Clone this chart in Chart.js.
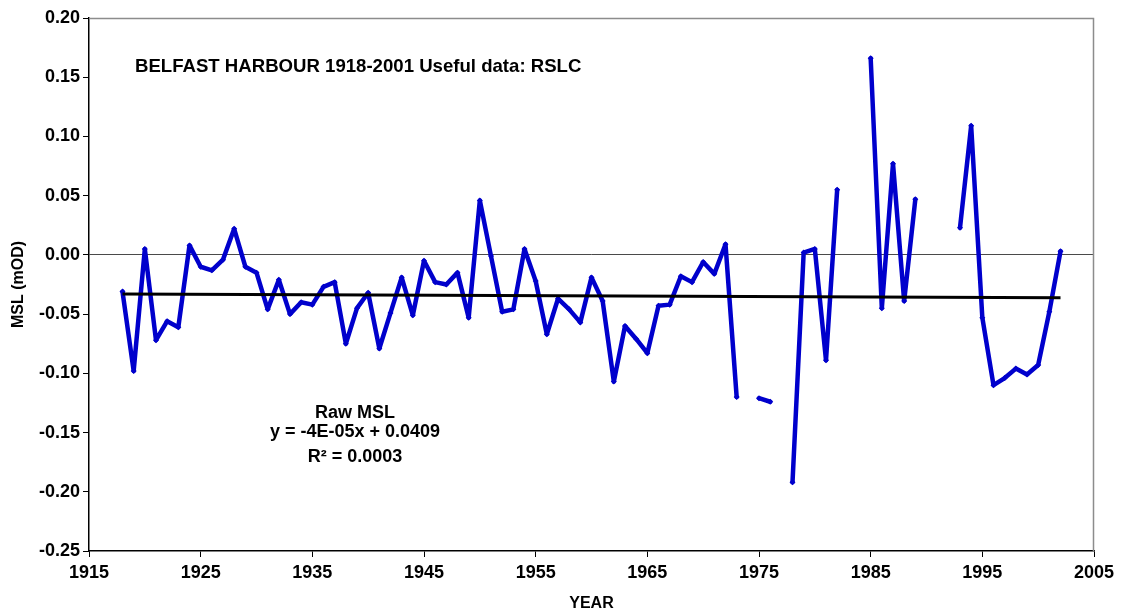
<!DOCTYPE html>
<html>
<head>
<meta charset="utf-8">
<title>Belfast Harbour MSL</title>
<script src="https://cdn.jsdelivr.net/npm/chart.js@4/dist/chart.umd.min.js"></script>
<style>
  html, body { margin: 0; padding: 0; background: #fff; }
  #wrap { width: 1122px; height: 613px; }
</style>
</head>
<body>
<div id="wrap"><canvas id="c" width="1122" height="613"></canvas></div>
<script>
// Annual mean sea level, Belfast Harbour (metres OD); null = no useful data
const years = [
  1918, 1919, 1920, 1921, 1922, 1923, 1924, 1925, 1926, 1927,
  1928, 1929, 1930, 1931, 1932, 1933, 1934, 1935, 1936, 1937,
  1938, 1939, 1940, 1941, 1942, 1943, 1944, 1945, 1946, 1947,
  1948, 1949, 1950, 1951, 1952, 1953, 1954, 1955, 1956, 1957,
  1958, 1959, 1960, 1961, 1962, 1963, 1964, 1965, 1966, 1967,
  1968, 1969, 1970, 1971, 1972, 1973, 1974, 1975, 1976, 1977,
  1978, 1979, 1980, 1981, 1982, 1983, 1984, 1985, 1986, 1987,
  1988, 1989, 1990, 1991, 1992, 1993, 1994, 1995, 1996, 1997,
  1998, 1999, 2000, 2001, 2002
];
const rawMsl = [
  -0.031, -0.098,  0.005, -0.072, -0.056, -0.061,  0.008, -0.010, -0.013, -0.004,
   0.022, -0.010, -0.015, -0.046, -0.021, -0.050, -0.040, -0.042, -0.027, -0.023,
  -0.075, -0.045, -0.032, -0.079, -0.049, -0.019, -0.051, -0.005, -0.023, -0.025,
  -0.015, -0.053,  0.046, -0.001, -0.048, -0.046,  0.005, -0.022, -0.067, -0.037,
  -0.046, -0.057, -0.019, -0.039, -0.107, -0.060, -0.071, -0.083, -0.043, -0.042,
  -0.018, -0.023, -0.006, -0.016,  0.009, -0.120,  null,  -0.121, -0.124,  null,
  -0.192,  0.002,  0.005, -0.089,  0.055,  null,   null,   0.166, -0.045,  0.077,
  -0.039,  0.047,  null,   null,   null,   0.023,  0.109, -0.053, -0.110, -0.104,
  -0.096, -0.101, -0.093, -0.048,  0.003
];
const yearTicks = { min: 1915, max: 2005, step: 10 };
const mslTicks = { min: -0.25, max: 0.20, step: 0.05 };

const chartTitle = 'BELFAST HARBOUR 1918-2001 Useful data: RSLC';
const trendLabel = ['Raw MSL', 'y = -4E-05x + 0.0409', 'R\u00B2 = 0.0003'];

// Least-squares linear trend over the years with data
const pts = years.map((x, i) => ({ x, y: rawMsl[i] })).filter(p => p.y !== null);
const n = pts.length;
const mx = pts.reduce((s, p) => s + p.x, 0) / n;
const my = pts.reduce((s, p) => s + p.y, 0) / n;
const slope = pts.reduce((s, p) => s + (p.x - mx) * (p.y - my), 0) /
              pts.reduce((s, p) => s + (p.x - mx) * (p.x - mx), 0);
const intercept = my - slope * mx;
const trendYears = [years[0], years[years.length - 1]];
const trendData = trendYears.map(x => ({ x, y: intercept + slope * x }));

const FONT = 'Liberation Sans, Arial, sans-serif';

// Grey frame on the top and right of the plot area
const framePlugin = {
  id: 'frame',
  beforeDatasetsDraw(chart) {
    const { ctx, chartArea: a } = chart;
    ctx.save();
    ctx.strokeStyle = '#8c8c8c';
    ctx.lineWidth = 1.5;
    ctx.beginPath();
    ctx.moveTo(a.left, a.top + 0.5);
    ctx.lineTo(a.right - 0.5, a.top + 0.5);
    ctx.lineTo(a.right - 0.5, a.bottom);
    ctx.stroke();
    ctx.restore();
  }
};

// Heading and trend-line caption inside the plot area
const textPlugin = {
  id: 'texts',
  afterDraw(chart) {
    const { ctx, chartArea: a } = chart;
    ctx.save();
    ctx.fillStyle = '#000';
    ctx.textBaseline = 'middle';
    ctx.font = 'bold 18.6px ' + FONT;
    ctx.textAlign = 'left';
    ctx.fillText(chartTitle, a.left + 46, a.top + 49);
    ctx.font = 'bold 18px ' + FONT;
    ctx.textAlign = 'center';
    const cx = a.left + 266;
    ctx.fillText(trendLabel[0], cx, a.top + 395);
    ctx.fillText(trendLabel[1], cx, a.top + 414);
    ctx.fillText(trendLabel[2], cx, a.top + 439);
    ctx.restore();
  }
};

new Chart(document.getElementById('c'), {
  type: 'line',
  data: {
    datasets: [
      {
        label: 'Raw MSL',
        data: years.map((x, i) => ({ x, y: rawMsl[i] })),
        borderColor: '#0000CC',
        backgroundColor: '#0000CC',
        borderWidth: 4.5,
        borderJoinStyle: 'round',
        borderCapStyle: 'round',
        pointStyle: 'rectRot',
        pointRadius: 3,
        pointBorderWidth: 0,
        spanGaps: false,
        tension: 0,
        order: 2
      },
      {
        label: 'Linear (Raw MSL)',
        data: trendData,
        borderColor: '#000000',
        borderWidth: 3,
        pointRadius: 0,
        tension: 0,
        order: 1
      }
    ]
  },
  options: {
    responsive: false,
    animation: false,
    events: [],
    layout: { padding: { top: 18, right: 28, left: 0, bottom: 0 } },
    plugins: {
      legend: { display: false },
      tooltip: { enabled: false },
      title: { display: false }
    },
    scales: {
      x: {
        type: 'linear',
        min: yearTicks.min,
        max: yearTicks.max,
        afterFit(scale) { scale.height = 62; },
        ticks: {
          stepSize: yearTicks.step,
          autoSkip: false,
          maxRotation: 0,
          padding: 5,
          color: '#000',
          font: { family: FONT, size: 18, weight: 'bold' },
          callback: v => String(v)
        },
        grid: {
          drawOnChartArea: false,
          tickLength: 6,
          tickColor: '#000',
          color: '#000'
        },
        border: { color: '#000', width: 1.5 },
        title: {
          display: true,
          text: 'YEAR',
          color: '#000',
          font: { family: FONT, size: 16, weight: 'bold' },
          padding: { top: 0, bottom: 0 }
        }
      },
      y: {
        type: 'linear',
        min: mslTicks.min,
        max: mslTicks.max,
        afterFit(scale) { scale.width = 89; },
        ticks: {
          stepSize: mslTicks.step,
          padding: 3,
          color: '#000',
          font: { family: FONT, size: 18, weight: 'bold' },
          callback: v => Number(v).toFixed(2)
        },
        grid: {
          drawOnChartArea: true,
          tickLength: 6,
          tickColor: '#000',
          lineWidth: 1,
          color: ctx => (ctx.tick && Math.abs(ctx.tick.value) < 1e-9) ? '#4a4a4a' : 'rgba(0,0,0,0)'
        },
        border: { color: '#000', width: 1.5 },
        title: {
          display: true,
          text: 'MSL (mOD)',
          color: '#000',
          font: { family: FONT, size: 16, weight: 'bold' },
          padding: { top: 9, bottom: 0 }
        }
      }
    }
  },
  plugins: [framePlugin, textPlugin]
});
</script>
</body>
</html>
